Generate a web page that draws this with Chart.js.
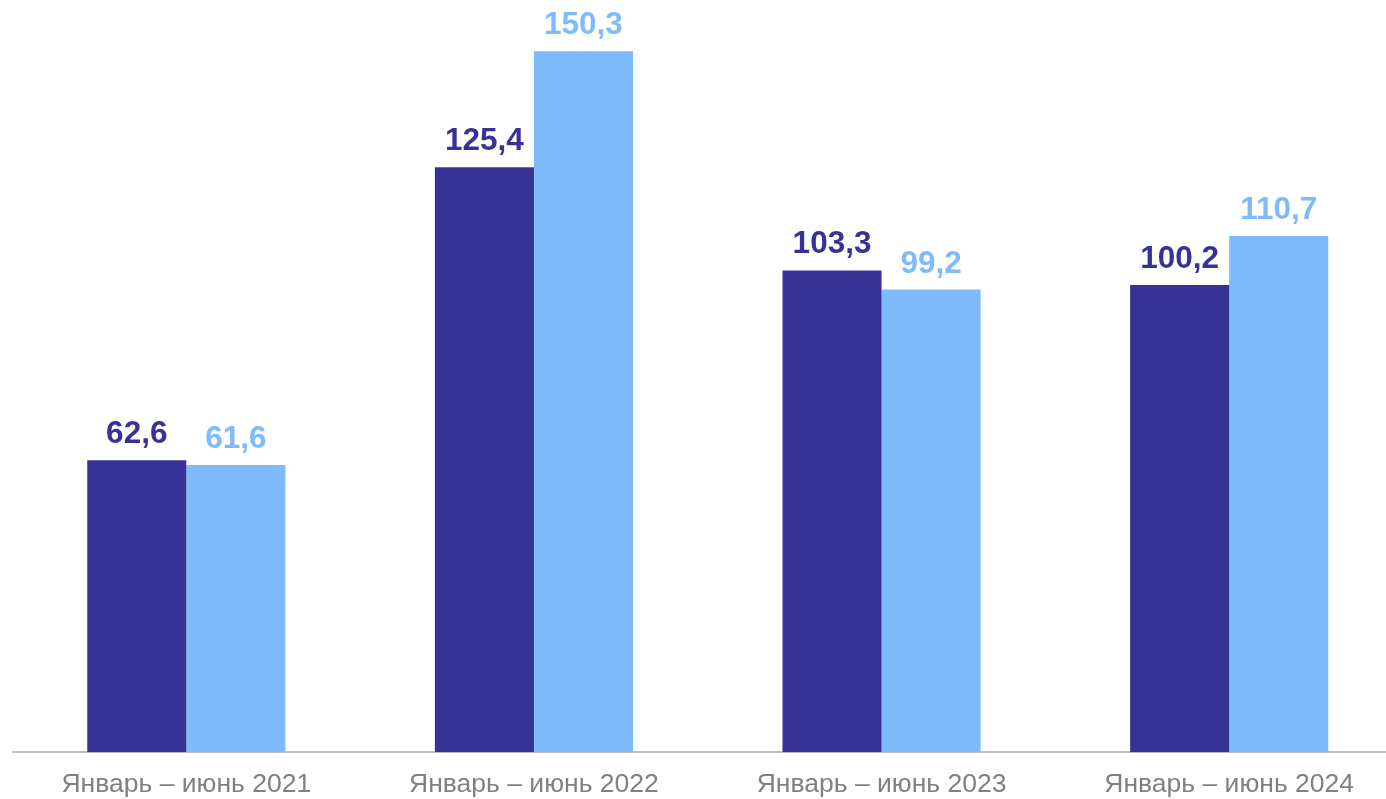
<!DOCTYPE html>
<html>
<head>
<meta charset="utf-8">
<script src="https://cdn.jsdelivr.net/npm/chart.js@4/dist/chart.umd.min.js"></script>
<style>
html,body{margin:0;padding:0;background:#fff;overflow:hidden;}
#wrap{position:absolute;left:0;top:0;width:1403px;height:818px;}
</style>
</head>
<body>
<div id="wrap"><canvas id="c"></canvas></div>
<script>
const categories = ["Январь – июнь 2021", "Январь – июнь 2022", "Январь – июнь 2023", "Январь – июнь 2024"];
const seriesA = [62.6, 125.4, 103.3, 100.2];
const seriesB = [61.6, 150.3, 99.2, 110.7];
const colorA = "#383296";
const colorB = "#7fbbfc";

const valueLabels = {
  id: "valueLabels",
  afterDatasetsDraw(chart) {
    const ctx = chart.ctx;
    ctx.save();
    ctx.font = "bold 31.5px 'Liberation Sans', Arial, sans-serif";
    ctx.textAlign = "center";
    ctx.textBaseline = "alphabetic";
    chart.data.datasets.forEach((ds, i) => {
      const meta = chart.getDatasetMeta(i);
      ctx.fillStyle = ds.backgroundColor;
      meta.data.forEach((bar, j) => {
        const txt = ds.data[j].toFixed(1).replace(".", ",");
        ctx.fillText(txt, bar.x, bar.y - 17);
      });
    });
    ctx.restore();
  }
};

new Chart(document.getElementById("c"), {
  type: "bar",
  data: {
    labels: categories,
    datasets: [
      { data: seriesA, backgroundColor: colorA, barPercentage: 1, categoryPercentage: 0.57 },
      { data: seriesB, backgroundColor: colorB, barPercentage: 1, categoryPercentage: 0.57 }
    ]
  },
  options: {
    responsive: true,
    maintainAspectRatio: false,
    animation: false,
    layout: { padding: { left: 12.5, right: 0, top: 6, bottom: 0 } },
    plugins: { legend: { display: false }, tooltip: { enabled: false } },
    scales: {
      x: {
        grid: { display: false, drawTicks: false },
        border: { display: true, color: "#bfbfbf", width: 2 },
        ticks: { color: "#808080", padding: 17, font: { family: "'Liberation Sans', Arial, sans-serif", size: 26.5 } }
      },
      y: {
        display: false,
        min: 0,
        max: 160
      }
    }
  },
  plugins: [valueLabels]
});
</script>
</body>
</html>
